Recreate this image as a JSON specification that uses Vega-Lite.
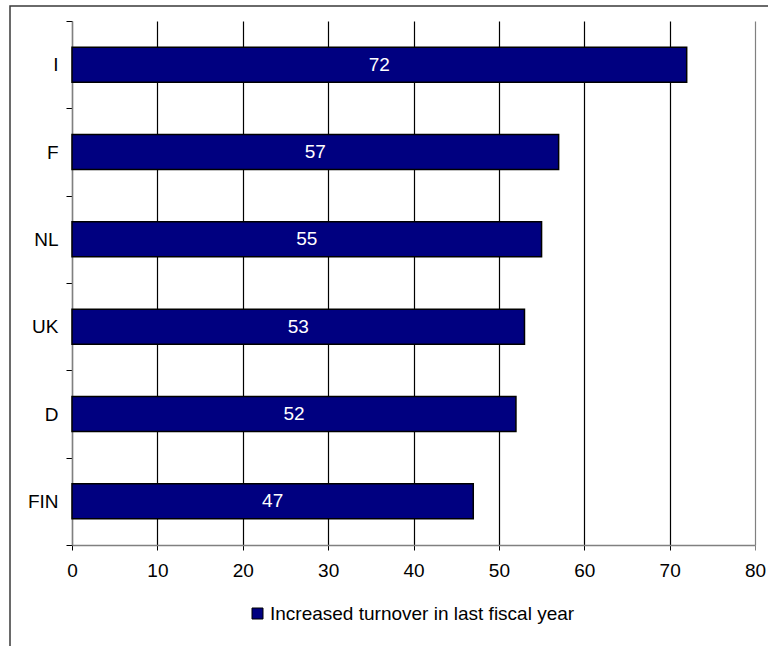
{
  "$schema": "https://vega.github.io/schema/vega-lite/v6.json",
  "width": 760,
  "height": 650,
  "autosize": "none",
  "padding": {"left": 10, "top": 6, "right": 0, "bottom": 0},
  "background": "white",
  "config": {
    "view": {"stroke": "#3a3a3a", "strokeWidth": 1.5},
    "font": "Liberation Sans",
    "axis": {"labelFont": "Liberation Sans", "labelFontSize": 19, "labelColor": "#000", "title": null}
  },
  "data": {
    "values": [
      {"country": "I", "pct": 72},
      {"country": "F", "pct": 57},
      {"country": "NL", "pct": 55},
      {"country": "UK", "pct": 53},
      {"country": "D", "pct": 52},
      {"country": "FIN", "pct": 47}
    ]
  },
  "encoding": {
    "y": {
      "field": "country",
      "type": "nominal",
      "sort": null,
      "scale": {"range": [15, 539], "paddingInner": 0, "paddingOuter": 0},
      "axis": {
        "orient": "left",
        "offset": -62,
        "tickBand": "extent",
        "tickSize": 6,
        "tickColor": "#000",
        "domainColor": "#808080",
        "domainWidth": 1.5,
        "labelPadding": 8,
        "grid": false
      }
    }
  },
  "layer": [
    {
      "mark": {"type": "bar", "height": {"band": 0.4}, "fill": "#000080", "stroke": "#000", "strokeWidth": 1.5},
      "encoding": {
        "x": {
          "field": "pct",
          "type": "quantitative",
          "scale": {"domain": [0, 80], "range": [62, 745], "nice": false},
          "axis": {
            "orient": "top",
            "values": [0, 10, 20, 30, 40, 50, 60, 70, 80],
            "grid": true,
            "gridColor": {"condition": {"test": "datum.value === 0 || datum.value === 80", "value": "#808080"}, "value": "#000"},
            "gridWidth": 1.2,
            "domain": false,
            "ticks": false,
            "labels": false
          }
        },
        "color": {
          "datum": "Increased turnover in last fiscal year",
          "type": "nominal",
          "scale": {"range": ["#000080"]},
          "legend": {
            "title": null,
            "orient": "none",
            "legendX": 238,
            "legendY": 598,
            "padding": 0,
            "symbolType": "square",
            "symbolSize": 121,
            "symbolStrokeColor": "#000",
            "symbolStrokeWidth": 1,
            "labelFont": "Liberation Sans",
            "labelFontSize": 19,
            "labelColor": "#000",
            "labelOffset": 3,
            "labelLimit": 0
          }
        }
      }
    },
    {
      "mark": {"type": "text", "color": "white", "font": "Liberation Sans", "fontSize": 19, "align": "center", "baseline": "middle"},
      "encoding": {
        "x": {
          "field": "pct",
          "type": "quantitative",
          "stack": "zero",
          "bandPosition": 0.5,
          "axis": {
            "orient": "bottom",
            "offset": -111,
            "values": [0, 10, 20, 30, 40, 50, 60, 70, 80],
            "grid": false,
            "tickSize": 5,
            "tickColor": {"condition": {"test": "datum.value === 80", "value": "#808080"}, "value": "#000"},
            "domainColor": "#808080",
            "domainWidth": 1.5,
            "labelPadding": 11,
            "labelFlush": false
          }
        },
        "text": {"field": "pct", "type": "quantitative"}
      }
    }
  ],
  "resolve": {"axis": {"x": "independent"}}
}
